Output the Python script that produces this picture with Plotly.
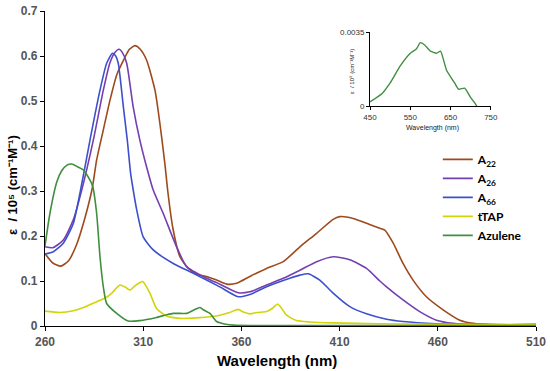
import plotly.graph_objects as go

# ---- data ----
a22_x = [260, 264, 268, 272, 276, 280, 284, 286.3, 289.7, 293.1, 296.5, 300, 303, 305.8, 308.5, 311.7, 316, 318.5,
         321, 322.5, 325, 328.7, 333, 338, 342.3, 347.4, 352.5, 357.6, 364.3, 372.8, 381.3, 389.8, 398.3, 406.7,
         410.1, 416.9, 425, 430.5, 433, 437.3, 442.3, 447.4, 454.2, 462.7, 471.2, 478, 490, 510]
a22_y = [0.161, 0.14, 0.133, 0.145, 0.18, 0.235, 0.305, 0.369, 0.436, 0.502, 0.558, 0.591, 0.615, 0.623, 0.615,
         0.591, 0.524, 0.45, 0.362, 0.30, 0.22, 0.154, 0.128, 0.114, 0.11, 0.102, 0.093, 0.095, 0.11, 0.128, 0.143,
         0.176, 0.206, 0.237, 0.243, 0.239, 0.226, 0.217, 0.213, 0.184, 0.139, 0.102, 0.065, 0.036, 0.013, 0.006,
         0.003, 0.003]

a26_x = [260, 264, 269.3, 274.4, 278.7, 284.6, 289.7, 293, 295.5, 297.7, 299.5, 301.6, 304.9, 308.3, 311.7, 315.1,
         320.2, 327, 332.1, 342.3, 349, 358.4, 364.3, 372.8, 381.3, 389.8, 398.3, 406.7, 415.2, 423.7, 430.5,
         433.9, 442.3, 450.8, 459.3, 467.8, 480, 510]
a26_y = [0.176, 0.174, 0.191, 0.236, 0.302, 0.413, 0.524, 0.584, 0.607, 0.615, 0.607, 0.584, 0.487, 0.413, 0.354,
         0.302, 0.25, 0.176, 0.132, 0.106, 0.093, 0.074, 0.076, 0.091, 0.106, 0.124, 0.143, 0.154, 0.147, 0.128,
         0.1, 0.087, 0.058, 0.032, 0.013, 0.006, 0.003, 0.003]

a66_x = [260, 264.2, 269.3, 274.4, 277.8, 282.9, 288, 291.4, 294.4, 296, 297.3, 299.9, 301.9, 303.6, 305, 306.7,
         310, 315.1, 325.3, 335.5, 349, 358.4, 364.3, 372.8, 381.3, 389.8, 394, 399.9, 406.7, 415.2, 423.7,
         433.9, 442.3, 459.3, 475, 510]
a66_y = [0.16, 0.165, 0.184, 0.228, 0.295, 0.413, 0.524, 0.584, 0.606, 0.6, 0.584, 0.487, 0.413, 0.339, 0.3,
         0.258, 0.198, 0.169, 0.139, 0.117, 0.087, 0.065, 0.07, 0.087, 0.101, 0.113, 0.116, 0.102, 0.073, 0.043,
         0.027, 0.015, 0.01, 0.005, 0.003, 0.003]

ttap_x = [260, 267.6, 274.4, 279.5, 286.3, 291.4, 294, 298.2, 301, 303.3, 306, 309.7, 313.4, 316.8, 321.9, 328.7,
          337.2, 345, 349, 354, 358.4, 361, 364.3, 368, 372.8, 376, 378.4, 380, 383, 388, 395, 406.7, 430, 460, 510]
ttap_y = [0.033, 0.03, 0.034, 0.041, 0.054, 0.064, 0.073, 0.091, 0.086, 0.08, 0.09, 0.099, 0.073, 0.039, 0.022,
          0.017, 0.018, 0.021, 0.024, 0.03, 0.037, 0.031, 0.027, 0.03, 0.032, 0.04, 0.049, 0.042, 0.024, 0.012,
          0.009, 0.007, 0.005, 0.004, 0.003]

azu_x = [260, 262.5, 266, 268.5, 271, 273.6, 276.5, 279.5, 282.9, 284.3, 286.3, 288, 289.7, 291.4, 296.5, 302.4,
         308.3, 316.8, 322, 325.3, 329, 332.1, 336, 338.9, 341, 344, 347.4, 352, 356, 365, 510]
azu_y = [0.178, 0.25, 0.32, 0.345, 0.357, 0.36, 0.354, 0.347, 0.324, 0.31, 0.25, 0.154, 0.087, 0.05, 0.028, 0.011,
         0.012, 0.019, 0.025, 0.028, 0.028, 0.028, 0.036, 0.041, 0.035, 0.028, 0.01, 0.004, 0.002, 0.001, 0.001]

inset_x = [450, 480, 500, 525, 550, 565, 575, 585, 600, 615, 625, 640, 660, 670, 685, 700, 710, 715]
inset_y = [0.0002, 0.0006, 0.0011, 0.0019, 0.0025, 0.0027, 0.0030, 0.0029, 0.0026, 0.0025, 0.0026, 0.0017,
           0.0011, 0.0008, 0.00085, 0.0004, 0.00015, 0.0]

x_ticks = [260, 310, 360, 410, 460, 510]
y_ticks = [0, 0.1, 0.2, 0.3, 0.4, 0.5, 0.6, 0.7]
inset_x_ticks = [450, 550, 650, 750]
inset_y_ticks = [0, 0.0035]
inset_y_labels = ["0", "0.0035"]

series = [
    ("A<sub>22</sub>", a22_x, a22_y, "#9e4a1c"),
    ("A<sub>26</sub>", a26_x, a26_y, "#7440b0"),
    ("A<sub>66</sub>", a66_x, a66_y, "#3d50cc"),
    ("tTAP", ttap_x, ttap_y, "#d2d40a"),
    ("Azulene", azu_x, azu_y, "#3f8f3f"),
]

fig = go.Figure()
for name, xs, ys, col in series:
    fig.add_trace(go.Scatter(x=xs, y=ys, name=name, mode="lines",
                             line=dict(color=col, width=1.6, shape="spline", smoothing=0.6)))

fig.add_trace(go.Scatter(x=inset_x, y=inset_y, mode="lines", showlegend=False,
                         line=dict(color="#3f8f3f", width=1.4, shape="spline", smoothing=0.5),
                         xaxis="x2", yaxis="y2"))

tick_font = dict(family="Liberation Sans", size=12, color="#555555", weight="bold")
small_font = dict(family="Liberation Sans", size=8, color="#333333")
fig.update_layout(
    width=550, height=371,
    margin=dict(l=45, r=14, t=11, b=45, autoexpand=False),
    paper_bgcolor="white", plot_bgcolor="white",
    xaxis=dict(range=[260, 510], tickvals=x_ticks, showgrid=False, zeroline=False, automargin=False,
               showline=True, linecolor="black", linewidth=1.3, ticks="outside", ticklen=4,
               tickcolor="black", tickfont=tick_font, domain=[0, 1]),
    yaxis=dict(range=[0, 0.7], tickvals=y_ticks, showgrid=False, zeroline=False, automargin=False,
               showline=True, linecolor="black", linewidth=1.3, ticks="outside", ticklen=4,
               tickcolor="black", tickfont=tick_font),
    xaxis2=dict(range=[450, 750], tickvals=inset_x_ticks, showgrid=False, zeroline=False, automargin=False,
                showline=True, linecolor="black", linewidth=1, ticks="outside", ticklen=3,
                tickcolor="black", tickfont=small_font, domain=[0.662, 0.908], anchor="y2"),
    yaxis2=dict(range=[0, 0.0035], tickvals=inset_y_ticks, ticktext=inset_y_labels, showgrid=False,
                zeroline=False, automargin=False, showline=True, linecolor="black", linewidth=1,
                ticks="outside", ticklen=3, tickcolor="black", tickfont=small_font,
                domain=[0.698, 0.933], anchor="x2"),
    legend=dict(x=0.80, y=0.575, xanchor="left", yanchor="top", bgcolor="rgba(0,0,0,0)",
                font=dict(family="Lato", size=12, color="black", weight="bold"),
                tracegroupgap=0, itemwidth=30),
    showlegend=True,
)

fig.add_annotation(text="Wavelength (nm)", xref="paper", yref="paper", x=(277 - 45) / 491, y=-(360 - 326) / 315,
                   showarrow=False, xanchor="center", yanchor="middle",
                   font=dict(family="Liberation Sans", size=15, color="black", weight="bold"))
fig.add_annotation(text="ε  / 10⁵ (cm⁻¹M⁻¹)", xref="paper", yref="paper", x=(12 - 45) / 491,
                   y=(326 - 185) / 315, textangle=-90, showarrow=False, xanchor="center", yanchor="middle",
                   font=dict(family="Liberation Sans", size=13, color="black", weight="bold"))
fig.add_annotation(text="Wavelength (nm)", xref="paper", yref="paper", x=(432 - 45) / 491, y=(326 - 128) / 315,
                   showarrow=False, xanchor="center", yanchor="middle",
                   font=dict(family="Liberation Sans", size=7, color="#222222"))
fig.add_annotation(text="ε  / 10⁵ (cm⁻¹M⁻¹)", xref="paper", yref="paper", x=(352 - 45) / 491,
                   y=(326 - 72) / 315, textangle=-90, showarrow=False, xanchor="center", yanchor="middle",
                   font=dict(family="Liberation Sans", size=6, color="#222222"))

fig.write_html("out.html", config={"displayModeBar": False},
               post_script="document.body.style.margin='0';")
